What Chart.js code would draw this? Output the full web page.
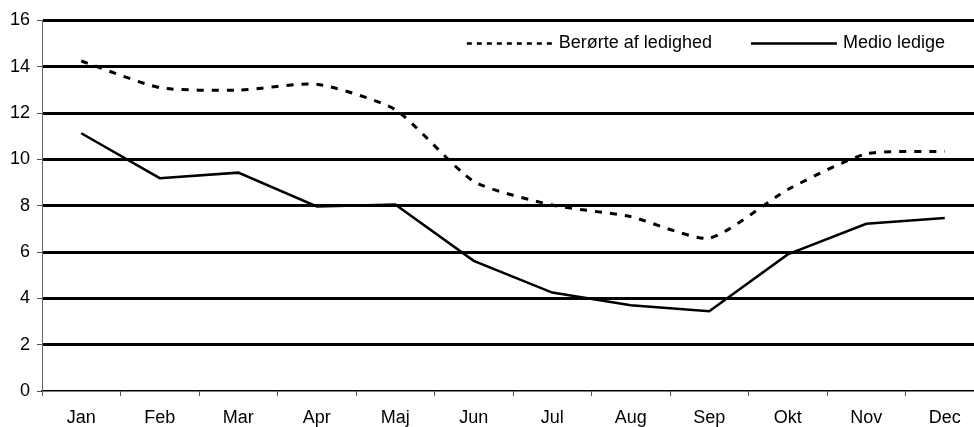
<!DOCTYPE html>
<html>
<head>
<meta charset="utf-8">
<script src="https://cdn.jsdelivr.net/npm/chart.js@4/dist/chart.umd.min.js"></script>
<style>
  html, body { margin: 0; background: #fff; overflow: hidden; }
  /* plot runs a little past the right edge, like the cropped original */
  #wrap { width: 984px; height: 427px; }
</style>
</head>
<body>
<div id="wrap"><canvas id="myChart"></canvas></div>
<script>
const months = ["Jan", "Feb", "Mar", "Apr", "Maj", "Jun", "Jul", "Aug", "Sep", "Okt", "Nov", "Dec"];
const beroerte = [14.25, 13.1, 12.99, 13.25, 12.15, 9.05, 8.03, 7.53, 6.6, 8.7, 10.24, 10.35];
const medio = [11.13, 9.19, 9.43, 7.97, 8.05, 5.62, 4.25, 3.7, 3.44, 5.9, 7.22, 7.47];
const yTicks = [0, 2, 4, 6, 8, 10, 12, 14, 16];

const family = "'Liberation Sans', Arial, sans-serif";
const font = { family: family, size: 18 };

// legend drawn inside the plot, top right, one row
const insideLegend = {
  id: "insideLegend",
  afterDraw(chart) {
    const { ctx, chartArea } = chart;
    const gap = 39;
    const sample = 86;
    const textGap = 6;
    const y = chartArea.top + 23;
    let x = chartArea.right - gap;
    ctx.save();
    ctx.font = "18px " + family;
    ctx.textBaseline = "middle";
    ctx.fillStyle = "#000";
    ctx.strokeStyle = "#000";
    chart.data.datasets.slice().reverse().forEach((ds) => {
      const w = ctx.measureText(ds.label).width;
      x -= w;
      ctx.fillText(ds.label, x, y);
      x -= textGap;
      ctx.beginPath();
      ctx.setLineDash(ds.borderDash ? [5, 5] : []);
      ctx.lineWidth = 2.5;
      ctx.moveTo(x - sample, y);
      ctx.lineTo(x, y);
      ctx.stroke();
      x -= sample + gap;
    });
    ctx.restore();
  },
};

new Chart(document.getElementById("myChart"), {
  type: "line",
  data: {
    labels: months,
    datasets: [
      {
        label: "Berørte af ledighed",
        data: beroerte,
        borderColor: "#000",
        borderWidth: 3,
        borderDash: [7, 8],
        tension: 0.2,
        pointRadius: 0,
        fill: false,
      },
      {
        label: "Medio ledige",
        data: medio,
        borderColor: "#000",
        borderWidth: 2.5,
        tension: 0,
        pointRadius: 0,
        fill: false,
      },
    ],
  },
  options: {
    responsive: true,
    maintainAspectRatio: false,
    animation: false,
    layout: { padding: { top: 20.5, left: 0, right: 0, bottom: 0 } },
    plugins: {
      tooltip: { enabled: false },
      legend: { display: false },
    },
    scales: {
      x: {
        offset: true,
        afterFit: (scale) => {
          scale.height = 36;
        },
        grid: {
          offset: true,
          drawOnChartArea: false,
          drawTicks: true,
          tickLength: 5,
          tickColor: "#555",
          tickWidth: 1,
        },
        border: { display: true, color: "#000", width: 1.5 },
        ticks: { color: "#000", font: font, padding: 11, maxRotation: 0 },
      },
      y: {
        min: 0,
        max: 16,
        afterBuildTicks: (axis) => {
          axis.ticks = yTicks.map((v) => ({ value: v }));
        },
        afterFit: (scale) => {
          scale.width = 42;
        },
        grid: {
          color: (ctx) => (ctx.tick && ctx.tick.value === 0 ? "rgba(0,0,0,0)" : "#000"),
          lineWidth: 3,
          tickLength: 5,
          tickColor: "#555",
          tickWidth: 1,
        },
        border: { display: true, color: "#666", width: 1 },
        ticks: { color: "#000", font: font, padding: 7 },
      },
    },
  },
  plugins: [insideLegend],
});
</script>
</body>
</html>
